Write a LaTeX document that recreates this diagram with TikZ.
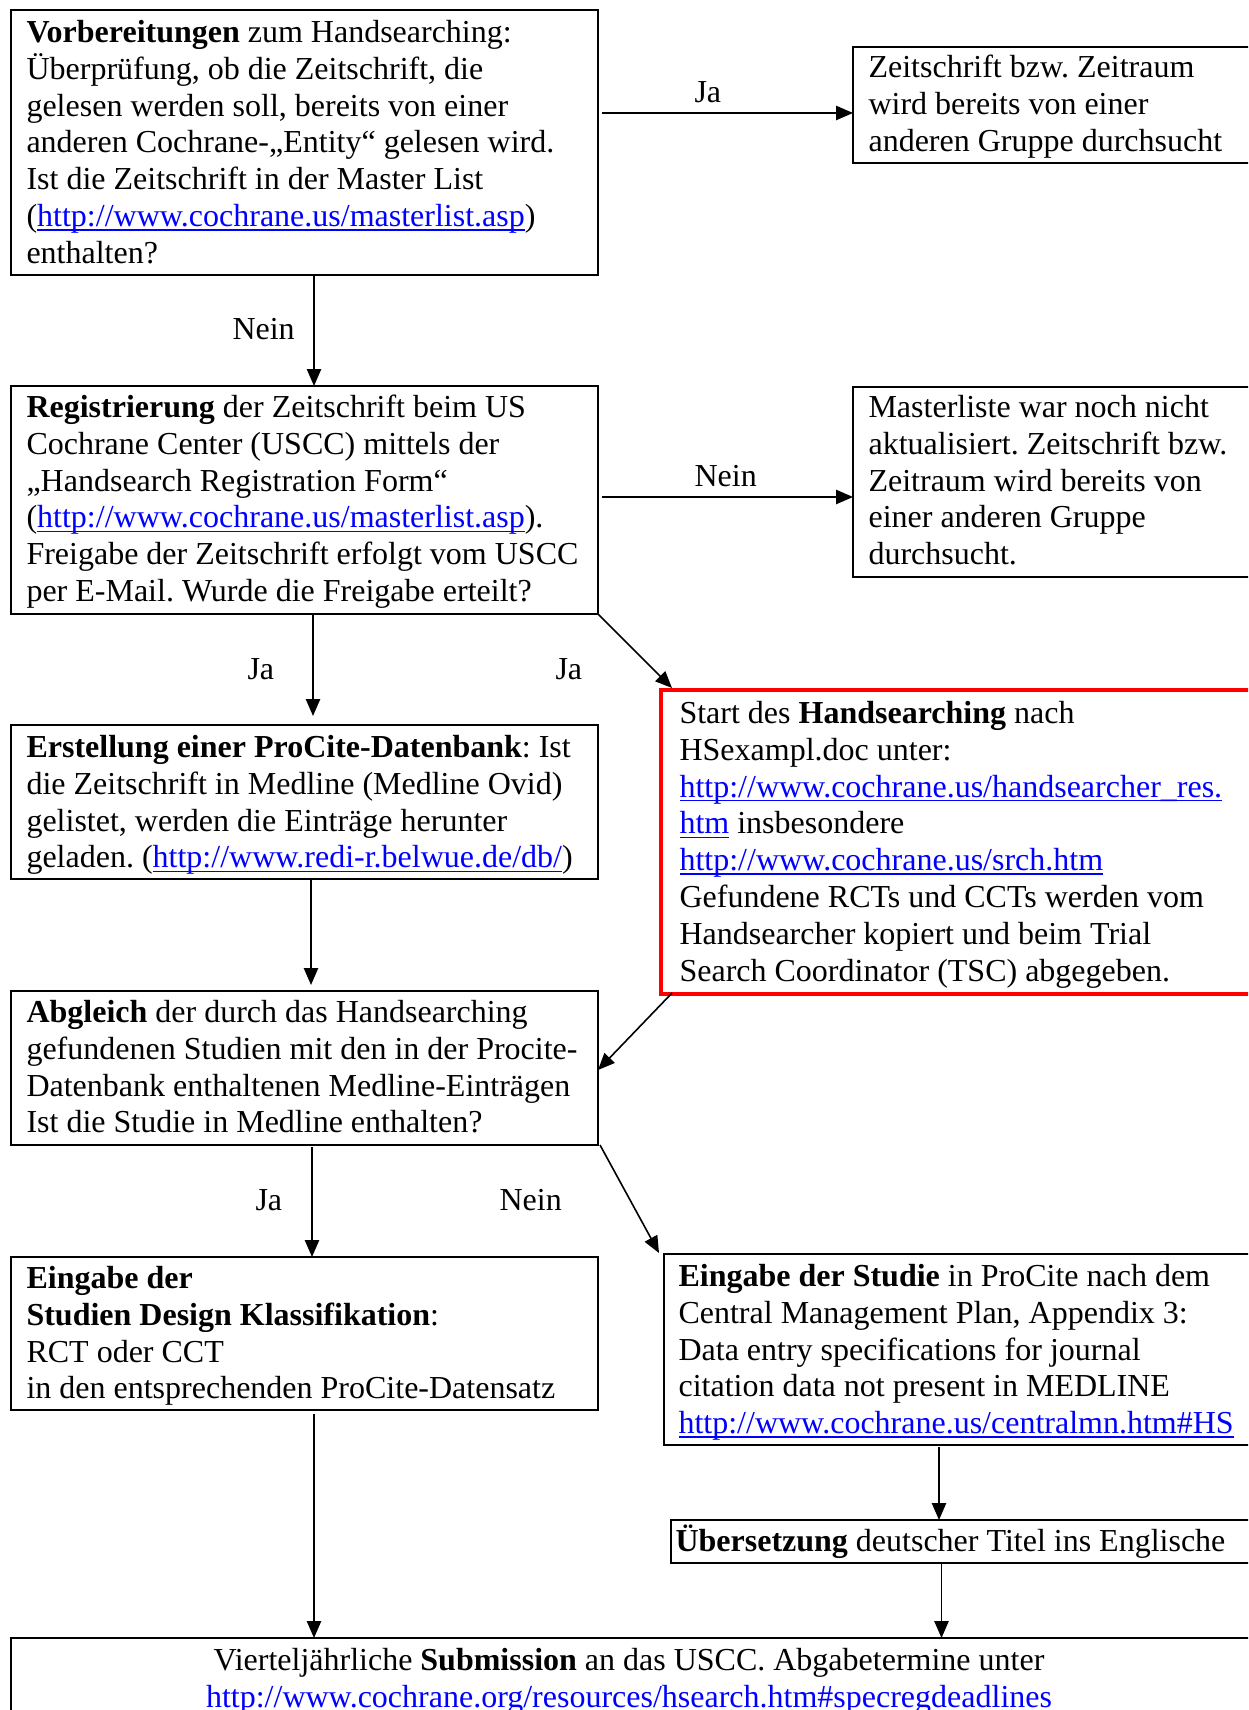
\documentclass[tikz,border=0pt]{standalone}
\usepackage{fontspec}
\setmainfont{Liberation Serif}
\usetikzlibrary{arrows.meta,calc,fit}
\definecolor{lnkblue}{RGB}{0,0,255}
\definecolor{boxred}{RGB}{255,0,0}
\newsavebox\lnkbox
\newcommand\lnk[1]{\begingroup\color{lnkblue}\sbox\lnkbox{#1}\rlap{\rule[-1.5pt]{\wd\lnkbox}{0.55pt}}\usebox\lnkbox\endgroup}
\newcommand\fst{\rule{0pt}{11pt}}
\frenchspacing
\begin{document}
\begin{tikzpicture}[x=0.375pt,y=-0.375pt,
  box/.style={draw=black, line width=0.85pt, inner sep=0pt, outer sep=0pt},
  redbox/.style={draw=boxred, line width=1.3pt, inner sep=0pt, outer sep=0pt},
  txt/.style={anchor=north west, inner sep=0pt, align=left, font=\fontsize{12pt}{13.8pt}\selectfont\frenchspacing},
  ctxt/.style={anchor=north, inner sep=0pt, align=center, font=\fontsize{12pt}{13.8pt}\selectfont\frenchspacing},
  lbl/.style={anchor=base west, inner sep=0pt, font=\fontsize{12pt}{13.8pt}\selectfont},
  arr/.style={line width=0.6pt, -{Triangle[length=6.3pt,width=5.3pt]}}]
\useasboundingbox (0,0) rectangle (1248,1710);
\clip (0,0) rectangle (1248,1710);

% boxes
\node[box, fit={(11,10)(598,275)}] (b1) {};
\node[box, fit={(853,47)(1262,163)}] (bZ) {};
\node[box, fit={(11,386)(598,614)}] (b2) {};
\node[box, fit={(853,387)(1262,577)}] (bM) {};
\node[box, fit={(11,725)(598,879)}] (b3) {};
\node[redbox, fit={(661,690)(1262,994)}] (bR) {};
\node[box, fit={(11,991)(598,1145)}] (b4) {};
\node[box, fit={(11,1257)(598,1410)}] (b5) {};
\node[box, fit={(664,1254)(1262,1445)}] (b6) {};
\node[box, fit={(671,1520)(1262,1563)}] (b7) {};
\node[box, fit={(11,1638)(1262,1750)}] (b8) {};

% texts
\node[txt] (t1) at (26,12.7) {\fst\textbf{Vorbereitungen} zum Handsearching:\\
Überprüfung, ob die Zeitschrift, die\\
gelesen werden soll, bereits von einer\\
anderen Cochrane-„Entity“ gelesen wird.\\
Ist die Zeitschrift in der Master List\\
(\lnk{http://www.cochrane.us/masterlist.asp})\\
enthalten?};
\node[txt] (tZ) at (868,47.7) {\fst Zeitschrift bzw. Zeitraum\\
wird bereits von einer\\
anderen Gruppe durchsucht};
\node[txt] (t2) at (26,387.7) {\fst\textbf{Registrierung} der Zeitschrift beim US\\
Cochrane Center (USCC) mittels der\\
„Handsearch Registration Form“\\
(\lnk{http://www.cochrane.us/masterlist.asp}).\\
Freigabe der Zeitschrift erfolgt vom USCC\\
per E-Mail. Wurde die Freigabe erteilt?};
\node[txt] (tM) at (868,387.7) {\fst Masterliste war noch nicht\\
aktualisiert. Zeitschrift bzw.\\
Zeitraum wird bereits von\\
einer anderen Gruppe\\
durchsucht.};
\node[txt] (t3) at (26,727.7) {\fst\textbf{Erstellung einer ProCite-Datenbank}: Ist\\
die Zeitschrift in Medline (Medline Ovid)\\
gelistet, werden die Einträge herunter\\
geladen. (\lnk{http://www.redi-r.belwue.de/db/})};
\node[txt] (tR) at (679,693.7) {\fst Start des \textbf{Handsearching} nach\\
HSexampl.doc unter:\\
\lnk{http://www.cochrane.us/handsearcher\_res.}\\
\lnk{htm} insbesondere\\
\lnk{http://www.cochrane.us/srch.htm}\\
Gefundene RCTs und CCTs werden vom\\
Handsearcher kopiert und beim Trial\\
Search Coordinator (TSC) abgegeben.};
\node[txt] (t4) at (26,992.7) {\fst\textbf{Abgleich} der durch das Handsearching\\
gefundenen Studien mit den in der Procite-\\
Datenbank enthaltenen Medline-Einträgen\\
Ist die Studie in Medline enthalten?};
\node[txt] (t5) at (26,1258.7) {\fst\textbf{Eingabe der}\\
\textbf{Studien Design Klassifikation}:\\
RCT oder CCT\\
in den entsprechenden ProCite-Datensatz};
\node[txt] (t6) at (678,1256.7) {\fst\textbf{Eingabe der Studie} in ProCite nach dem\\
Central Management Plan, Appendix 3:\\
Data entry specifications for journal\\
citation data not present in MEDLINE\\
\lnk{http://www.cochrane.us/centralmn.htm\#HS}};
\node[txt] (t7) at (675,1521.7) {\fst\textbf{Übersetzung} deutscher Titel ins Englische};
\node[ctxt] (t8) at (629,1640.7) {\fst Vierteljährliche \textbf{Submission} an das USCC. Abgabetermine unter\\
\lnk{http://www.cochrane.org/resources/hsearch.htm\#specregdeadlines}};

% connectors
\draw[arr] ($(b1.north east)+(4,103)$) -- ($(bZ.north west)+(0,66)$);
\draw[arr] ($(b1.south west)+(303,0)$) -- ($(b2.north west)+(303,0)$);
\draw[arr] ($(b2.north east)+(4,111)$) -- ($(bM.north west)+(0,110)$);
\draw[arr] ($(b2.south west)+(302,0)$) -- ($(b3.north west)+(302,-9)$);
\draw[arr] (b2.south east) -- ($(bR.north west)+(11,-2)$);
\draw[arr] ($(b3.south west)+(300,0)$) -- ($(b4.north west)+(300,-6)$);
\draw[arr] ($(bR.south west)+(11,-1)$) -- ($(b4.north east)+(0,79)$);
\draw[arr] ($(b4.south west)+(301,2)$) -- ($(b5.north west)+(301,0)$);
\draw[arr] ($(b4.south east)+(2,0)$) -- ($(b6.north west)+(-5,-1)$);
\draw[arr] ($(b6.south west)+(275,2)$) -- ($(b7.north west)+(268,0)$);
\draw[arr] ($(b7.south west)+(270.5,0)$) -- ($(b8.north west)+(930.5,0)$);
\draw[arr] ($(b5.south west)+(303,4)$) -- ($(b8.north west)+(303,0)$);

% labels
\node[lbl] (lJa1) at (694,103) {Ja};
\node[lbl] (lNein1) at (232,340) {Nein};
\node[lbl] (lNein2) at (694,487) {Nein};
\node[lbl] (lJa2) at (247,679) {Ja};
\node[lbl] (lJa3) at (555,679) {Ja};
\node[lbl] (lJa4) at (255,1210) {Ja};
\node[lbl] (lNein3) at (499,1210) {Nein};
\end{tikzpicture}
\end{document}
